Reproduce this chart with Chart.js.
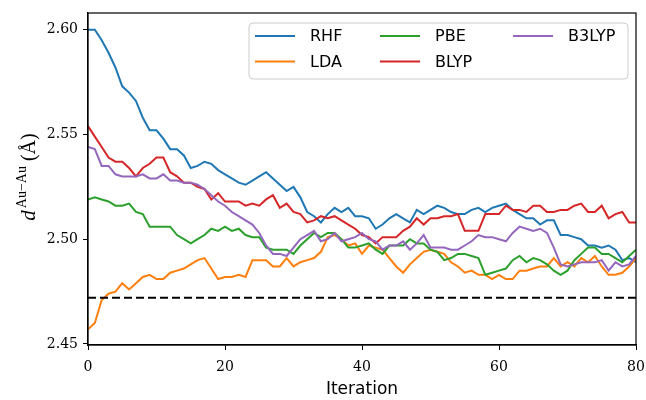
<!DOCTYPE html>
<html>
<head>
<meta charset="utf-8">
<script src="https://cdn.jsdelivr.net/npm/chart.js@4"></script>
<style>
  html, body { margin: 0; padding: 0; background: #fff; }
  canvas { display: block; }
</style>
</head>
<body>
<canvas id="chart" width="646" height="400"></canvas>
<script>
// values, one per SCF iteration (0..80)
const rhf = [
    2.600, 2.600, 2.595, 2.589, 2.582, 2.573, 2.570, 2.566, 2.558, 2.552,
    2.552, 2.548, 2.543, 2.543, 2.540, 2.534, 2.535, 2.537, 2.536, 2.533,
    2.531, 2.529, 2.527, 2.526, 2.528, 2.530, 2.532, 2.529, 2.526, 2.523,
    2.525, 2.520, 2.513, 2.511, 2.508, 2.512, 2.515, 2.513, 2.515, 2.511,
    2.511, 2.510, 2.505, 2.507, 2.510, 2.512, 2.510, 2.508, 2.514, 2.512,
    2.514, 2.516, 2.515, 2.513, 2.512, 2.512, 2.514, 2.515, 2.513, 2.515,
    2.516, 2.517, 2.514, 2.512, 2.510, 2.510, 2.507, 2.509, 2.509, 2.502,
    2.502, 2.501, 2.500, 2.497, 2.497, 2.496, 2.497, 2.495, 2.490, 2.491, 2.489
];
const lda = [
    2.457, 2.460, 2.471, 2.474, 2.475, 2.479, 2.476, 2.479, 2.482, 2.483,
    2.481, 2.481, 2.484, 2.485, 2.486, 2.488, 2.490, 2.491, 2.486, 2.481,
    2.482, 2.482, 2.483, 2.482, 2.490, 2.490, 2.490, 2.487, 2.487, 2.491,
    2.487, 2.489, 2.490, 2.491, 2.494, 2.501, 2.502, 2.500, 2.497, 2.498,
    2.493, 2.497, 2.496, 2.495, 2.491, 2.487, 2.484, 2.488, 2.491, 2.494,
    2.495, 2.494, 2.493, 2.489, 2.487, 2.484, 2.485, 2.483, 2.483, 2.481,
    2.483, 2.481, 2.481, 2.485, 2.485, 2.486, 2.487, 2.487, 2.491, 2.487,
    2.489, 2.487, 2.491, 2.489, 2.492, 2.487, 2.483, 2.483, 2.484, 2.487, 2.491
];
const pbe = [
    2.519, 2.520, 2.519, 2.518, 2.516, 2.516, 2.517, 2.513, 2.512, 2.506,
    2.506, 2.506, 2.506, 2.502, 2.500, 2.498, 2.500, 2.502, 2.505, 2.504,
    2.506, 2.504, 2.505, 2.502, 2.501, 2.501, 2.496, 2.495, 2.495, 2.495,
    2.493, 2.497, 2.500, 2.503, 2.501, 2.503, 2.503, 2.500, 2.496, 2.496,
    2.497, 2.498, 2.495, 2.493, 2.497, 2.497, 2.497, 2.500, 2.498, 2.498,
    2.495, 2.494, 2.490, 2.491, 2.493, 2.493, 2.492, 2.491, 2.483, 2.484,
    2.485, 2.486, 2.490, 2.492, 2.489, 2.491, 2.490, 2.488, 2.485, 2.483,
    2.485, 2.490, 2.493, 2.496, 2.496, 2.493, 2.493, 2.491, 2.489, 2.492, 2.495
];
const blyp = [
    2.554, 2.549, 2.544, 2.539, 2.537, 2.537, 2.534, 2.530, 2.534, 2.536,
    2.539, 2.539, 2.532, 2.530, 2.527, 2.527, 2.525, 2.524, 2.519, 2.522,
    2.518, 2.518, 2.518, 2.516, 2.517, 2.516, 2.519, 2.521, 2.515, 2.517,
    2.513, 2.512, 2.508, 2.509, 2.511, 2.510, 2.511, 2.509, 2.507, 2.505,
    2.502, 2.501, 2.498, 2.501, 2.501, 2.501, 2.504, 2.506, 2.510, 2.507,
    2.510, 2.510, 2.511, 2.511, 2.512, 2.504, 2.504, 2.504, 2.512, 2.512,
    2.512, 2.516, 2.514, 2.514, 2.513, 2.516, 2.516, 2.513, 2.513, 2.514,
    2.514, 2.516, 2.517, 2.513, 2.513, 2.516, 2.510, 2.512, 2.513, 2.508, 2.508
];
const b3lyp = [
    2.544, 2.543, 2.535, 2.535, 2.531, 2.530, 2.530, 2.530, 2.531, 2.529,
    2.529, 2.531, 2.528, 2.528, 2.527, 2.527, 2.526, 2.524, 2.521, 2.518,
    2.516, 2.513, 2.511, 2.509, 2.507, 2.503, 2.497, 2.493, 2.493, 2.492,
    2.496, 2.500, 2.502, 2.504, 2.499, 2.500, 2.503, 2.499, 2.500, 2.501,
    2.503, 2.500, 2.499, 2.495, 2.497, 2.497, 2.499, 2.495, 2.498, 2.502,
    2.496, 2.496, 2.496, 2.495, 2.495, 2.497, 2.499, 2.502, 2.501, 2.501,
    2.500, 2.499, 2.503, 2.506, 2.505, 2.504, 2.505, 2.503, 2.496, 2.488,
    2.487, 2.488, 2.489, 2.489, 2.489, 2.490, 2.485, 2.489, 2.487, 2.488, 2.492
];
const refDistance = 2.472; // dashed reference line
const refRange = [0, 80];

const methods = ['RHF', 'LDA', 'PBE', 'BLYP', 'B3LYP'];
const colors = ['#1f77b4', '#ff7f0e', '#2ca02c', '#d62728', '#9467bd'];
const xTicks = [0, 20, 40, 60, 80];
const yTicks = [2.45, 2.50, 2.55, 2.60];

const serif = '"DejaVu Serif", serif';
const sans = '"DejaVu Sans", sans-serif';

function toPoints(values) {
    return values.map((v, i) => ({ x: i, y: v }));
}

const series = [rhf, lda, pbe, blyp, b3lyp];
const datasets = series.map((values, k) => ({
    label: methods[k],
    data: toPoints(values),
    borderColor: colors[k],
    borderWidth: 2,
    pointRadius: 0,
    tension: 0,
    fill: false,
    order: series.length - k // later series drawn on top, like matplotlib
}));
datasets.push({
    label: 'ref',
    data: refRange.map(x => ({ x: x, y: refDistance })),
    borderColor: '#000',
    borderWidth: 2,
    borderDash: [8, 4],
    pointRadius: 0,
    fill: false,
    order: 0
});

// frame, axis titles and the 3-column legend
const decorations = {
    id: 'decorations',
    afterDatasetsDraw(chart) {
        const ctx = chart.ctx;
        const area = chart.chartArea;
        ctx.save();

        // legend box
        const bx = 249, by = 23, bw = 379, bh = 56;
        ctx.beginPath();
        ctx.roundRect(bx, by, bw, bh, 4);
        ctx.fillStyle = 'rgba(255,255,255,0.8)';
        ctx.fill();
        ctx.strokeStyle = '#cccccc';
        ctx.lineWidth = 1;
        ctx.stroke();

        const colX = [255, 380, 513];
        const rowY = [36, 61.5];
        ctx.font = '16px ' + sans;
        ctx.textBaseline = 'middle';
        ctx.textAlign = 'left';
        methods.forEach((name, k) => {
            const cx = colX[Math.floor(k / 2)];
            const cy = rowY[k % 2];
            ctx.beginPath();
            ctx.moveTo(cx, cy);
            ctx.lineTo(cx + 40, cy);
            ctx.strokeStyle = colors[k];
            ctx.lineWidth = 2;
            ctx.stroke();
            ctx.fillStyle = '#000';
            ctx.fillText(name, cx + 55, cy + 1);
        });

        // full box around the plot
        ctx.strokeStyle = '#000';
        ctx.lineWidth = 1.2;
        ctx.strokeRect(area.left, area.top, area.right - area.left, area.bottom - area.top);

        // x title
        ctx.fillStyle = '#000';
        ctx.font = '17px ' + sans;
        ctx.textAlign = 'center';
        ctx.textBaseline = 'middle';
        ctx.fillText('Iteration', (area.left + area.right) / 2, 390);

        // y title: d^{Au-Au} (Å)
        const main = '20px "Liberation Serif", serif';
        const italic = 'italic 21px "Liberation Serif", serif';
        const small = '14px "Liberation Serif", serif';
        ctx.font = italic;
        const wd = ctx.measureText('d').width;
        ctx.font = small;
        const sup = 'Au\u2212Au';
        const ws = ctx.measureText(sup).width;
        ctx.font = main;
        const tail = ' (\u00c5)';
        const wt = ctx.measureText(tail).width;
        const total = wd + 2 + ws + wt;
        ctx.translate(35, 177);
        ctx.rotate(-Math.PI / 2);
        ctx.textAlign = 'left';
        ctx.textBaseline = 'alphabetic';
        let px = -total / 2;
        ctx.font = italic;
        ctx.fillText('d', px, 0);
        px += wd + 2;
        ctx.font = small;
        ctx.fillText(sup, px, -9);
        px += ws;
        ctx.font = main;
        ctx.fillText(tail, px, 0);
        ctx.restore();
    }
};

const tickGrid = {
    drawOnChartArea: false,
    drawTicks: true,
    tickLength: 5,
    color: '#000',
    lineWidth: 1
};

new Chart(document.getElementById('chart'), {
    type: 'line',
    data: { datasets: datasets },
    options: {
        responsive: false,
        animation: false,
        layout: { padding: { top: 13, right: 10, left: 0, bottom: 0 } },
        plugins: {
            legend: { display: false },
            tooltip: { enabled: false }
        },
        scales: {
            x: {
                type: 'linear',
                min: 0,
                max: 80,
                afterBuildTicks: scale => { scale.ticks = xTicks.map(v => ({ value: v })); },
                afterFit: scale => {
                    scale.height = 55;
                    scale.paddingLeft = 0;
                    scale.paddingRight = 0;
                },
                ticks: {
                    color: '#000',
                    font: { family: serif, size: 14 },
                    padding: 9,
                    maxRotation: 0,
                    callback: v => String(v)
                },
                grid: tickGrid,
                border: { display: true, color: '#000', width: 1.2 }
            },
            y: {
                type: 'linear',
                min: 2.4495,
                max: 2.608,
                afterBuildTicks: scale => { scale.ticks = yTicks.map(v => ({ value: v })); },
                afterFit: scale => {
                    scale.width = 88;
                    scale.paddingTop = 0;
                    scale.paddingBottom = 0;
                },
                ticks: {
                    color: '#000',
                    font: { family: serif, size: 14 },
                    padding: 5,
                    callback: v => v.toFixed(2)
                },
                grid: tickGrid,
                border: { display: true, color: '#000', width: 1.2 }
            }
        }
    },
    plugins: [decorations]
});
</script>
</body>
</html>
